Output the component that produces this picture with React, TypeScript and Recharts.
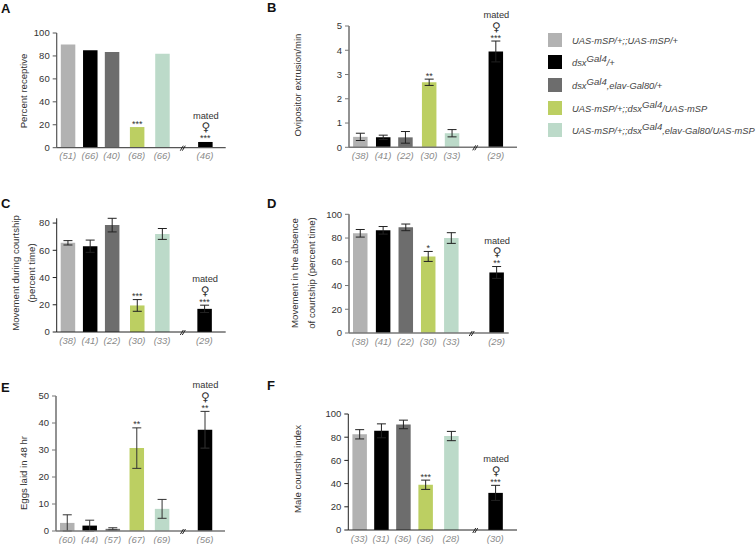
import { BarChart, Bar, Cell, ErrorBar, ReferenceDot, XAxis, YAxis } from "recharts";

const FONT = "'Liberation Sans', Arial, sans-serif";
const COLORS = ["#b2b2b2", "#000000", "#6d6d6d", "#bccf62", "#bcdac9", "#000000"];

// panel A
const nA = ["(51)", "(66)", "(40)", "(68)", "(66)", "(46)"];
const valuesA = [90, 85, 83.5, 18, 82, 5];
const errorsA = [0, 0, 0, 0, 0, 0];
const starsA = ["", "", "", "***", "", "***"];
const slotsA = [0.5, 1.51, 2.5, 3.64, 4.79, 6.74];

// panel B
const nB = ["(38)", "(41)", "(22)", "(30)", "(33)", "(29)"];
const valuesB = [0.43, 0.41, 0.41, 2.68, 0.58, 3.95];
const errorsB = [0.15, 0.09, 0.24, 0.13, 0.15, 0.43];
const starsB = ["", "", "", "**", "", "***"];
const slotsB = [0.51, 1.55, 2.56, 3.64, 4.68, 6.67];

// panel C
const nC = ["(38)", "(41)", "(22)", "(30)", "(33)", "(29)"];
const valuesC = [65.5, 63, 78.5, 19.5, 72, 17];
const errorsC = [1.6, 4.5, 5, 4.3, 4, 2.7];
const starsC = ["", "", "", "***", "", "***"];
const slotsC = [0.5, 1.51, 2.51, 3.65, 4.79, 6.71];

// panel D
const nD = ["(38)", "(41)", "(22)", "(30)", "(33)", "(29)"];
const valuesD = [84, 86.5, 89, 64.5, 80, 51];
const errorsD = [3.2, 3.2, 2.8, 4.2, 4.5, 5];
const starsD = ["", "", "", "*", "", "**"];
const slotsD = [0.51, 1.55, 2.58, 3.6, 4.65, 6.71];

// panel E
const nE = ["(60)", "(44)", "(57)", "(67)", "(69)", "(56)"];
const valuesE = [3, 2, 0.8, 30.7, 8.2, 37.5];
const errorsE = [3, 2, 0.4, 7.5, 3.5, 6.8];
const starsE = ["", "", "", "**", "", "**"];
const slotsE = [0.51, 1.53, 2.58, 3.67, 4.82, 6.77];

// panel F
const nF = ["(33)", "(31)", "(36)", "(36)", "(28)", "(30)"];
const valuesF = [82.5, 85.5, 91, 39, 81, 32];
const errorsF = [4, 6, 3.7, 4, 4, 6.5];
const starsF = ["", "", "", "***", "", "***"];
const slotsF = [0.5, 1.49, 2.49, 3.5, 4.67, 6.68];

const legendItems = [
  ["UAS-mSP/+;;UAS-mSP/+"],
  ["dsx", "Gal4", "/+"],
  ["dsx", "Gal4", ",elav-Gal80/+"],
  ["UAS-mSP/+;;dsx", "Gal4", "/UAS-mSP"],
  ["UAS-mSP/+;;dsx", "Gal4", ",elav-Gal80/UAS-mSP"],
];

interface PanelProps {
  letter: string;
  letterX: number;
  letterY: number;
  left: number;
  top: number;
  axisX: number;
  axisTop: number;
  axisBottom: number;
  axisEnd: number;
  max: number;
  yTicks: number[];
  slots: number[];
  breakSlot: number;
  slotMax: number;
  values: number[];
  errors: number[];
  stars: string[];
  n: string[];
  title: string[];
  titleX: number[];
  titleY: number;
  axisColor: string;
  axisWidth: number;
  errorColor: string;
}

function Panel(p: PanelProps) {
  const data = p.values.map((value, i) => ({
    slot: p.slots[i],
    value,
    err: p.errors[i],
    stars: p.stars[i],
  }));
  const plotH = p.axisBottom - p.axisTop;
  const width = 270;
  const height = 180;
  const yAxisW = 30;

  const annotate = (props: any) => {
    const { x, y, width: w, index } = props;
    const row = data[index];
    const cx = x + w / 2;
    const top = y - (row.err * plotH) / p.max;
    return (
      <g key={index} fontFamily={FONT} textAnchor="middle" fill="#333">
        {row.stars && (
          <text x={cx} y={top - 0.5} fontSize={9}>
            {row.stars}
          </text>
        )}
        {index === data.length - 1 && (
          <>
            <text x={cx + 0.5} y={top - 10.5} fontSize={12} fontFamily="'DejaVu Sans'">
              ♀
            </text>
            <text x={cx + 0.5} y={top - 23} fontSize={9.3}>
              mated
            </text>
          </>
        )}
      </g>
    );
  };

  return (
    <div style={{ position: "absolute", left: p.left, top: p.top, width, height }}>
      <BarChart
        width={width}
        height={height}
        data={data}
        margin={{
          top: p.axisTop - p.top,
          left: p.axisX - p.left - yAxisW,
          right: width - (p.axisEnd - p.left),
          bottom: height - (p.axisBottom - p.top) - 20,
        }}
      >
        <text
          x={p.letterX - p.left}
          y={p.letterY - p.top}
          fontFamily={FONT}
          fontSize={13}
          fontWeight="bold"
          fill="#111"
        >
          {p.letter}
        </text>
        {p.title.map((line, i) => (
          <text
            key={line}
            transform={`translate(${p.titleX[i] - p.left},${p.titleY - p.top}) rotate(-90)`}
            textAnchor="middle"
            dominantBaseline="central"
            fontFamily={FONT}
            fontSize={9.6}
            fill="#333"
          >
            {line}
          </text>
        ))}
        <XAxis
          dataKey="slot"
          type="number"
          domain={[0, p.slotMax]}
          ticks={p.slots}
          interval={0}
          height={20}
          tickLine={false}
          tickSize={0}
          tickMargin={5}
          tickFormatter={(v: number) => p.n[p.slots.indexOf(v)]}
          tick={{ fill: "#8a8a8a", fontSize: 9.5, fontStyle: "italic", fontFamily: FONT }}
          axisLine={{ stroke: p.axisColor, strokeWidth: p.axisWidth }}
        />
        <YAxis
          width={yAxisW}
          domain={[0, p.max]}
          ticks={p.yTicks}
          interval={0}
          tickSize={4}
          tickMargin={3}
          tick={{ fill: "#333", fontSize: 9.5, fontFamily: FONT }}
          tickLine={{ stroke: p.axisColor }}
          axisLine={{ stroke: p.axisColor, strokeWidth: p.axisWidth }}
        />
        <Bar dataKey="value" barSize={14.5} isAnimationActive={false} label={annotate}>
          {data.map((_, i) => (
            <Cell key={i} fill={COLORS[i]} />
          ))}
          {p.errors.some((e) => e > 0) && (
            <ErrorBar dataKey="err" width={4.5} stroke={p.errorColor} strokeWidth={1} isAnimationActive={false} />
          )}
        </Bar>
        <ReferenceDot
          x={p.breakSlot}
          y={0}
          ifOverflow="visible"
          shape={(s: any) => (
            <g stroke="#222" strokeWidth={1}>
              <line x1={s.cx - 2.5} y1={s.cy + 3} x2={s.cx + 0.5} y2={s.cy - 2} />
              <line x1={s.cx - 0.5} y1={s.cy + 3} x2={s.cx + 2.5} y2={s.cy - 2} />
            </g>
          )}
        />
      </BarChart>
    </div>
  );
}

function Legend() {
  return (
    <div style={{ position: "absolute", left: 548, top: 33, fontFamily: FONT, fontSize: 9.3, color: "#444" }}>
      {legendItems.map((parts, i) => (
        <div key={i} style={{ position: "absolute", top: [0, 22, 45, 68, 90][i], left: 0, whiteSpace: "nowrap", height: 14 }}>
          <span style={{ position: "absolute", left: 0, top: 0, width: 14, height: 14, background: COLORS[i] }} />
          <span style={{ position: "absolute", left: 24, top: 1, fontStyle: "italic", lineHeight: "14px" }}>
            {parts[0]}
            {parts[1] && (
              <span style={{ fontSize: 9.6, position: "relative", top: -4 }}>{parts[1]}</span>
            )}
            {parts[2]}
          </span>
        </div>
      ))}
    </div>
  );
}

export default function App() {
  return (
    <div style={{ position: "absolute", left: 0, top: 0, width: 756, height: 544, background: "#fff", overflow: "hidden" }}>
      <Panel
        letter="A" letterX={1} letterY={13}
        left={0} top={0} axisX={56.7} axisTop={33} axisBottom={147.7} axisEnd={225.7}
        max={100} yTicks={[0, 20, 40, 60, 80, 100]}
        slots={slotsA} breakSlot={5.73} slotMax={7.68}
        values={valuesA} errors={errorsA} stars={starsA} n={nA}
        title={["Percent  receptive"]} titleX={[23]} titleY={91}
        axisColor="#555" axisWidth={1.2} errorColor="#222"
      />
      <Panel
        letter="B" letterX={267} letterY={12}
        left={262} top={0} axisX={349} axisTop={26} axisBottom={147.3} axisEnd={517}
        max={5} yTicks={[0, 1, 2, 3, 4, 5]}
        slots={slotsB} breakSlot={5.74} slotMax={7.64}
        values={valuesB} errors={errorsB} stars={starsB} n={nB}
        title={["Ovipositor extrusion/min"]} titleX={[297]} titleY={85}
        axisColor="#777" axisWidth={1.6} errorColor="#222"
      />
      <Panel
        letter="C" letterX={1} letterY={208}
        left={0} top={185} axisX={56.7} axisTop={218.3} axisBottom={332} axisEnd={225.7}
        max={80} yTicks={[0, 20, 40, 60, 80]}
        slots={slotsC} breakSlot={5.73} slotMax={7.68}
        values={valuesC} errors={errorsC} stars={starsC} n={nC}
        title={["Movement during courtship", "(percent time)"]} titleX={[15.7, 31.7]} titleY={273}
        axisColor="#222" axisWidth={1} errorColor="#222"
      />
      <Panel
        letter="D" letterX={267} letterY={208}
        left={262} top={185} axisX={349} axisTop={214.3} axisBottom={333} axisEnd={508.7}
        max={100} yTicks={[0, 20, 40, 60, 80, 100]}
        slots={slotsD} breakSlot={5.58} slotMax={7.26}
        values={valuesD} errors={errorsD} stars={starsD} n={nD}
        title={["Movement in the absence", "of courtship (percent time)"]} titleX={[294, 311]} titleY={273}
        axisColor="#777" axisWidth={1.6} errorColor="#222"
      />
      <Panel
        letter="E" letterX={1} letterY={392}
        left={0} top={365} axisX={56} axisTop={396} axisBottom={531} axisEnd={225}
        max={50} yTicks={[0, 10, 20, 30, 40, 50]}
        slots={slotsE} breakSlot={5.77} slotMax={7.68}
        values={valuesE} errors={errorsE} stars={starsE} n={nE}
        title={["Eggs laid in 48 hr"]} titleX={[23]} titleY={473}
        axisColor="#777" axisWidth={1.6} errorColor="#333"
      />
      <Panel
        letter="F" letterX={267} letterY={390}
        left={262} top={365} axisX={348.3} axisTop={414} axisBottom={530} axisEnd={517}
        max={100} yTicks={[0, 20, 40, 60, 80, 100]}
        slots={slotsF} breakSlot={5.77} slotMax={7.67}
        values={valuesF} errors={errorsF} stars={starsF} n={nF}
        title={["Male courtship index"]} titleX={[297]} titleY={469}
        axisColor="#222" axisWidth={1} errorColor="#222"
      />
      <Legend />
    </div>
  );
}
